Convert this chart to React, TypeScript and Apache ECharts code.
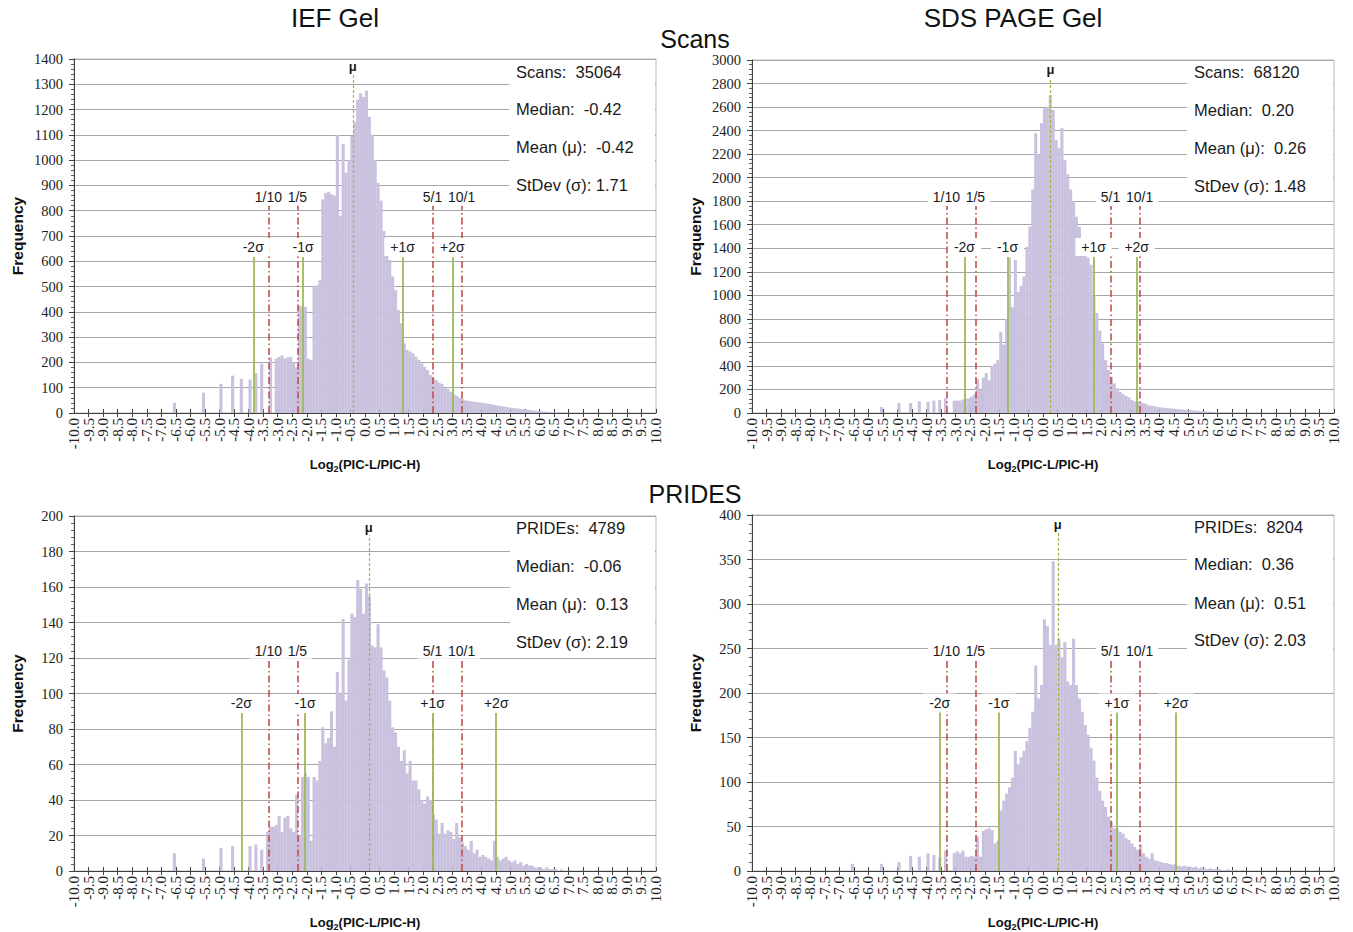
import React, { useEffect, useRef } from "react";
import * as echarts from "echarts";

// Histogram bins: 0.1 wide, arrays start at the bin whose left edge is -7.0
const BIN_START = -7.0;
const BIN_WIDTH = 0.1;

// IEF Gel - Scans (bins -7.0 .. 7.0)
const iefScans = [
  0, 0, 0, 0, 40, 0, 0, 0, 0, 0,
  0, 0, 0, 0, 80, 0, 0, 0, 0, 0,
  115, 0, 0, 0, 148, 0, 0, 135, 0, 0,
  132, 0, 158, 0, 195, 0, 0, 220, 0, 215,
  222, 228, 215, 220, 222, 200, 180, 425, 420, 420,
  215, 210, 500, 505, 525, 845, 870, 875, 865, 860,
  1100, 780, 1065, 950, 1000, 1095, 1150, 1240, 1265, 1250,
  1275, 1172, 1100, 1000, 910, 840, 720, 660, 605, 540,
  486, 407, 355, 275, 250, 243, 236, 223, 210, 196,
  183, 170, 150, 137, 130, 120, 115, 100, 95, 84,
  75, 68, 60, 55, 50, 48, 46, 45, 43, 42,
  40, 38, 36, 34, 32, 30, 28, 26, 24, 22,
  20, 19, 18, 16, 15, 13, 12, 10, 9, 8,
  7, 6, 5, 4, 3, 3, 2, 2, 1, 1,
];

// SDS PAGE Gel - Scans
const sdsScans = [
  0, 0, 0, 0, 0, 0, 0, 0, 0, 0,
  0, 0, 0, 0, 50, 0, 0, 0, 0, 0,
  85, 0, 0, 0, 85, 0, 0, 100, 0, 0,
  95, 0, 105, 0, 110, 0, 125, 0, 0, 105,
  105, 105, 115, 120, 125, 140, 160, 290, 195, 300,
  340, 280, 400, 420, 450, 690, 580, 800, 1320, 900,
  1300, 1030, 1080, 1160, 1413, 1584, 1900, 2377, 2200, 2462,
  2589, 2603, 2700, 2575, 2320, 2250, 2420, 2150, 2030, 1900,
  1800, 1668, 1583, 1470, 1380, 1320, 1260, 1000, 850, 700,
  592, 450, 365, 309, 252, 210, 181, 160, 145, 133,
  110, 100, 96, 90, 85, 75, 65, 60, 56, 52,
  48, 45, 42, 40, 38, 35, 33, 30, 28, 26,
  24, 22, 20, 18, 16, 14, 12, 10, 9, 8,
  7, 6, 5, 4, 3, 3, 2, 2, 1, 1,
];

// IEF Gel - PRIDEs
const iefPrides = [
  0, 0, 0, 0, 10, 0, 0, 0, 0, 0,
  0, 0, 0, 0, 7, 0, 0, 0, 0, 0,
  13, 0, 0, 0, 14, 0, 0, 0, 0, 0,
  14, 0, 15, 0, 12, 0, 22, 25, 25, 26,
  31, 22, 30, 31, 24, 22, 43, 20, 53, 55,
  53, 17, 53, 51, 62, 81, 72, 75, 90, 70,
  112, 100, 142, 96, 119, 145, 143, 164, 159, 145,
  162, 155, 127, 126, 139, 126, 113, 109, 96, 81,
  78, 70, 62, 68, 55, 62, 51, 51, 46, 40,
  38, 42, 40, 32, 29, 21, 27, 21, 23, 22,
  18, 27, 19, 16, 14, 12, 17, 10, 12, 8,
  9, 8, 7, 6, 17, 8, 6, 7, 8, 6,
  5, 6, 4, 5, 3, 4, 3, 3, 2, 2,
  2, 1, 2, 1, 1, 1, 0, 1, 0, 0,
];

// SDS PAGE Gel - PRIDEs
const sdsPrides = [
  0, 0, 0, 0, 8, 0, 0, 0, 0, 0,
  0, 0, 0, 0, 8, 0, 0, 0, 0, 0,
  10, 0, 0, 0, 17, 0, 0, 16, 0, 0,
  20, 0, 18, 0, 15, 0, 23, 0, 0, 20,
  22, 20, 23, 16, 16, 17, 16, 39, 16, 45,
  47, 48, 46, 31, 34, 68, 79, 87, 94, 105,
  135, 120, 128, 135, 146, 161, 179, 231, 194, 209,
  283, 275, 254, 348, 254, 261, 240, 257, 213, 209,
  261, 209, 194, 179, 164, 153, 138, 124, 105, 90,
  79, 72, 61, 55, 48, 48, 44, 42, 37, 35,
  31, 27, 24, 30, 20, 16, 14, 20, 12, 11,
  10, 9, 9, 8, 7, 8, 6, 5, 6, 5,
  5, 4, 5, 3, 4, 3, 2, 3, 2, 2,
  2, 1, 1, 2, 1, 1, 1, 0, 1, 0,
];

const panelSeries = [iefScans, sdsScans, iefPrides, sdsPrides];
const countLabels = ["Scans:  35064", "Scans:  68120", "PRIDEs:  4789", "PRIDEs:  8204"];
const medianLabels = ["-0.42", "0.20", "-0.06", "0.36"];
const means = [-0.42, 0.26, 0.13, 0.51];
const stdevs = [1.71, 1.48, 2.19, 2.03];
const yMax = [1400, 3000, 200, 400];
const yStep = [100, 200, 20, 50];
const X_MIN = -10;
const X_MAX = 10;
const X_STEP = 0.5;
const ratioLabels = ["1/10", "1/5", "5/1", "10/1"];
const ratioValues = [0.1, 0.2, 5, 10];
const sigmaMultipliers = [-2, -1, 1, 2];
const sigmaLabels = ["-2σ", "-1σ", "+1σ", "+2σ"];
const ratioLineTop = [820, 1760, 119, 237];
const sigmaLineTop = [617, 1326, 89, 178];
const meanLineTop = [1336, 2846, 189, 380];
const columnTitles = ["IEF Gel", "SDS PAGE Gel"];
const rowTitles = ["Scans", "PRIDES"];

// Layout
const GRIDS = [
  { left: 74, top: 59, height: 354 },
  { left: 752, top: 60, height: 353 },
  { left: 74, top: 516, height: 357 },
  { left: 752, top: 515, height: 358 },
];
const GRID_W = 582;
const BOXES = [
  { x: 509, y: 60, h: 136, tx: 516, ty: [72, 109, 147, 185] },
  { x: 1187, y: 61, h: 136, tx: 1194, ty: [72, 110, 148, 186] },
  { x: 510, y: 517, h: 135, tx: 516, ty: [528, 566, 604, 642] },
  { x: 1187, y: 516, h: 136, tx: 1194, ty: [527, 564, 603, 640] },
];

const SANS = '"Liberation Sans", Arial, Helvetica, sans-serif';
const SERIF = '"Liberation Serif", "Times New Roman", serif';
const BAR_COLOR = "#c9c1de";
const RED = "#c0504d";
const GREEN = "#9bbb59";
const MU = "#a9b443";

function toPairs(vals: number[]) {
  return vals.map((v, i) => [+(BIN_START + BIN_WIDTH * (i + 0.5)).toFixed(2), v]);
}

function buildOption() {
  const panels = [0, 1, 2, 3];
  const labelBase = {
    show: true,
    position: "end",
    distance: 1,
    fontFamily: SANS,
    fontSize: 14,
    color: "#1a1a1a",
    backgroundColor: "#fff",
    padding: [1, 4],
  };
  const xLabelStyle = {
    rotate: 90,
    margin: 5,
    fontFamily: SERIF,
    fontSize: 15,
    lineHeight: 11,
    color: "#222",
    hideOverlap: false,
    formatter: (v: number) => v.toFixed(1),
  };

  const grid = GRIDS.map((g) => ({
    left: g.left,
    top: g.top,
    width: GRID_W,
    height: g.height,
    show: true,
    borderColor: "#b8b8b8",
    borderWidth: 1,
  }));

  // main x axes: line, outward ticks, inner labels (-9.5 .. 9.5), name
  const mainX = panels.map((p) => ({
    type: "value",
    gridIndex: p,
    min: X_MIN,
    max: X_MAX,
    interval: X_STEP,
    name: "Log{s|2}(PIC-L/PIC-H)",
    nameLocation: "middle",
    nameGap: 42,
    nameTextStyle: {
      fontFamily: SANS,
      fontWeight: "bold",
      fontSize: 13,
      color: "#111",
      lineHeight: 18,
      rich: {
        s: { fontFamily: SANS, fontWeight: "bold", fontSize: 9, lineHeight: 8, verticalAlign: "bottom", color: "#111" },
      },
    },
    axisLine: { show: true, onZero: false, lineStyle: { color: "#404040", width: 1 } },
    axisTick: { show: true, length: 4, lineStyle: { color: "#404040" } },
    axisLabel: { ...xLabelStyle, showMinLabel: false, showMaxLabel: false },
    splitLine: { show: false },
  }));

  // overlay axes: inward ticks (gives the crossing tick marks)
  const tickX = panels.map((p) => ({
    type: "value",
    gridIndex: p,
    min: X_MIN,
    max: X_MAX,
    interval: X_STEP,
    position: "bottom",
    axisLine: { show: false, onZero: false },
    axisTick: { show: true, inside: true, length: 4, lineStyle: { color: "#404040" } },
    axisLabel: { show: false },
    splitLine: { show: false },
  }));

  // overlay axes: end labels -10.0 and 10.0
  const endX = panels.map((p) => ({
    type: "value",
    gridIndex: p,
    min: X_MIN,
    max: X_MAX,
    interval: X_MAX - X_MIN,
    position: "bottom",
    axisLine: { show: false, onZero: false },
    axisTick: { show: false },
    axisLabel: { ...xLabelStyle, showMinLabel: true, showMaxLabel: true },
    splitLine: { show: false },
  }));

  const yAxis = panels.map((p) => ({
    type: "value",
    gridIndex: p,
    min: 0,
    max: yMax[p],
    interval: yStep[p],
    name: "Frequency",
    nameLocation: "middle",
    nameGap: 49,
    nameRotate: 90,
    nameTextStyle: { fontFamily: SANS, fontWeight: "bold", fontSize: 15.5, color: "#111" },
    axisLine: { show: true, onZero: false, lineStyle: { color: "#404040" } },
    axisTick: { show: true, length: 5, lineStyle: { color: "#404040" } },
    minorTick: { show: true, splitNumber: 5, length: 3, lineStyle: { color: "#606060" } },
    axisLabel: {
      fontFamily: SERIF,
      fontSize: 14.5,
      color: "#222",
      margin: 11,
      formatter: (v: number) => String(v),
    },
    splitLine: { show: true, lineStyle: { color: "#a6a6a6", width: 1 } },
  }));

  const series = panels.map((p) => {
    const redLines = ratioValues.map((r, j) => {
      const x = Math.log2(r);
      return [
        {
          coord: [x, 0],
          lineStyle: { color: RED, width: 1.6, type: [7, 3, 1.5, 3] },
          label: { ...labelBase, formatter: ratioLabels[j], padding: [1, 5] },
        },
        { coord: [x, ratioLineTop[p]] },
      ];
    });
    const sigmaLines = sigmaMultipliers.map((k, j) => {
      const x = means[p] + k * stdevs[p];
      return [
        {
          coord: [x, 0],
          lineStyle: { color: GREEN, width: 1.8, type: "solid" },
          label: { ...labelBase, formatter: sigmaLabels[j], padding: [2, 6] },
        },
        { coord: [x, sigmaLineTop[p]] },
      ];
    });
    const meanLine = [
      {
        coord: [means[p], 0],
        lineStyle: { color: MU, width: 1.2, type: [3, 2] },
        label: {
          ...labelBase,
          formatter: "μ",
          fontWeight: "bold",
          fontSize: 13,
          backgroundColor: "transparent",
          padding: 0,
          distance: 2,
        },
      },
      { coord: [means[p], meanLineTop[p]] },
    ];
    return {
      type: "bar",
      xAxisIndex: p,
      yAxisIndex: p,
      data: toPairs(panelSeries[p]),
      barWidth: 3.1,
      itemStyle: { color: BAR_COLOR },
      markLine: {
        silent: true,
        symbol: ["none", "none"],
        animation: false,
        data: [...redLines, ...sigmaLines, meanLine],
      },
    };
  });

  const graphic: any[] = [];
  const titleFont = { fontFamily: SANS, fontSize: 26, fill: "#111", align: "center", verticalAlign: "middle" };
  graphic.push({ type: "text", x: 335, y: 18, style: { ...titleFont, text: columnTitles[0] } });
  graphic.push({ type: "text", x: 1013, y: 18, style: { ...titleFont, text: columnTitles[1] } });
  graphic.push({ type: "text", x: 695, y: 39, style: { ...titleFont, fontSize: 25, text: rowTitles[0] } });
  graphic.push({ type: "text", x: 695, y: 494, style: { ...titleFont, fontSize: 25, text: rowTitles[1] } });

  panels.forEach((p) => {
    const b = BOXES[p];
    const gridRight = GRIDS[p].left + GRID_W;
    graphic.push({
      type: "rect",
      z: 10,
      shape: { x: b.x, y: b.y, width: gridRight - 1 - b.x, height: b.h },
      style: { fill: "#ffffff" },
    });
    const lines = [
      countLabels[p],
      "Median:  " + medianLabels[p],
      "Mean (μ):  " + means[p].toFixed(2),
      "StDev (σ): " + stdevs[p].toFixed(2),
    ];
    lines.forEach((t, k) => {
      graphic.push({
        type: "text",
        z: 11,
        x: b.tx,
        y: b.ty[k],
        style: { text: t, fontFamily: SANS, fontSize: 16.5, fill: "#1a1a1a", align: "left", verticalAlign: "middle" },
      });
    });
  });

  return {
    animation: false,
    backgroundColor: "#ffffff",
    grid,
    xAxis: [...mainX, ...tickX, ...endX],
    yAxis,
    series,
    graphic,
  };
}

export default function App() {
  const ref = useRef<HTMLDivElement>(null);
  useEffect(() => {
    if (!ref.current) return;
    const chart = echarts.init(ref.current, undefined, { renderer: "svg" });
    chart.setOption(buildOption() as any);
    return () => chart.dispose();
  }, []);
  return (
    <div
      ref={ref}
      style={{ position: "fixed", left: 0, top: 0, width: 1353, height: 932, background: "#fff" }}
    />
  );
}
